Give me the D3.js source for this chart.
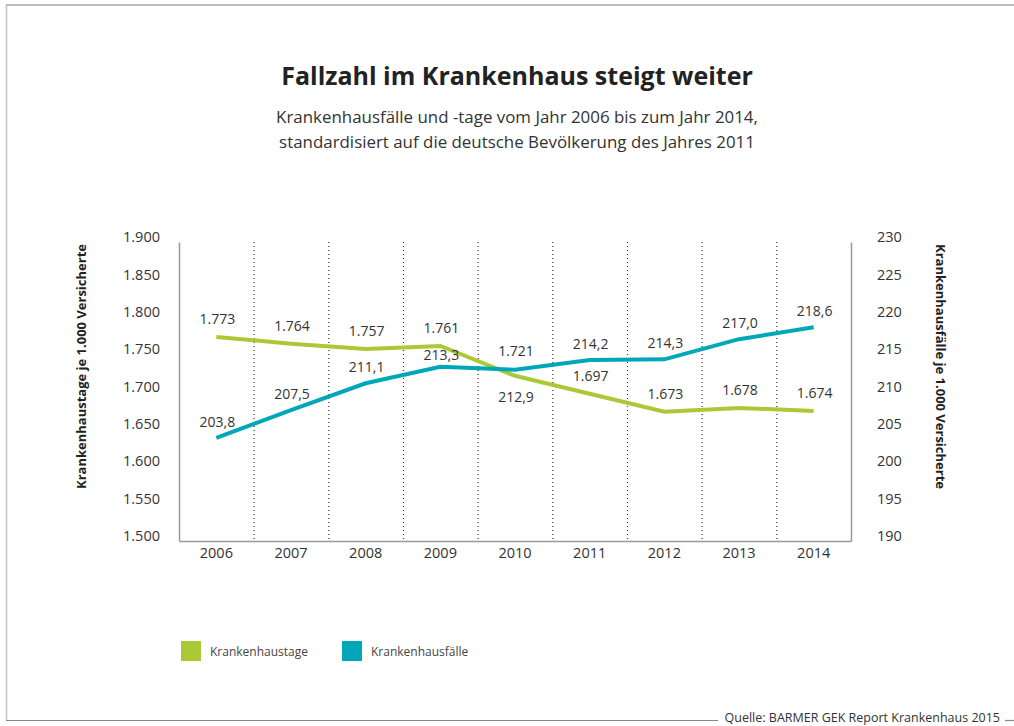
<!DOCTYPE html>
<html>
<head>
<meta charset="utf-8">
<script src="https://cdn.jsdelivr.net/npm/d3@7"></script>
<style>
  body { margin: 0; background: #fff; }
  svg { display: block; font-family: 'Open Sans', sans-serif; }
</style>
</head>
<body>
<svg id="container"></svg>
<script>
// data
const years = ['2006', '2007', '2008', '2009', '2010', '2011', '2012', '2013', '2014']
const tage = [1773, 1764, 1757, 1761, 1721, 1697, 1673, 1678, 1674]
const faelle = [203.8, 207.5, 211.1, 213.3, 212.9, 214.2, 214.3, 217.0, 218.6]
const leftTicks = [1500, 1550, 1600, 1650, 1700, 1750, 1800, 1850, 1900]
const rightTicks = [190, 195, 200, 205, 210, 215, 220, 225, 230]
const seriesNames = ['Krankenhaustage', 'Krankenhausfälle']

const W = 1014
const H = 726
const green = '#abc837'
const blue = '#00a7b8'
const textColor = '#333'

const svg = d3.select('#container').attr('width', W).attr('height', H)

// frame
svg.append('line').attr('x1', 6.5).attr('x2', 6.5).attr('y1', 5).attr('y2', 721)
  .attr('stroke', '#c4c4c4').attr('stroke-width', 1.5)
svg.append('line').attr('x1', 6).attr('x2', W).attr('y1', 5).attr('y2', 5)
  .attr('stroke', '#a8a8a8').attr('stroke-width', 1.5)
svg.append('line').attr('x1', 6).attr('x2', 718).attr('y1', 720.5).attr('y2', 720.5)
  .attr('stroke', '#8a8a8a').attr('stroke-width', 1.2)
svg.append('line').attr('x1', 1005).attr('x2', W).attr('y1', 720.5).attr('y2', 720.5)
  .attr('stroke', '#8a8a8a').attr('stroke-width', 1.2)

// titles
svg.append('text').attr('x', 517).attr('y', 85).attr('text-anchor', 'middle')
  .attr('font-size', 25).attr('font-weight', 'bold').attr('fill', '#222')
  .text('Fallzahl im Krankenhaus steigt weiter')
svg.append('text').attr('x', 517).attr('y', 123).attr('text-anchor', 'middle')
  .attr('font-size', 16.9).attr('fill', textColor)
  .text('Krankenhausfälle und -tage vom Jahr 2006 bis zum Jahr 2014,')
svg.append('text').attr('x', 517).attr('y', 148).attr('text-anchor', 'middle')
  .attr('font-size', 16.9).attr('fill', textColor)
  .text('standardisiert auf die deutsche Bevölkerung des Jahres 2011')

// plot box
const plotLeft = 179
const plotRight = 851
const plotTop = 242
const plotBottom = 541

const x = d3.scaleBand().domain(years).range([plotLeft, plotRight])
const yL = d3.scaleLinear().domain([1500, 1900]).range([plotBottom, plotTop])
const yR = d3.scaleLinear().domain([190, 230]).range([plotBottom, plotTop])

const fmtL = d => d3.format(',')(d).replace(',', '.')
const fmtR = d => d3.format('.1f')(d).replace('.', ',')

// dotted separators between years
svg.append('g').selectAll('line')
  .data(years.slice(1))
  .join('line')
  .attr('x1', d => x(d) + 0.5)
  .attr('x2', d => x(d) + 0.5)
  .attr('y1', plotTop)
  .attr('y2', plotBottom)
  .attr('stroke', '#333')
  .attr('stroke-width', 1.2)
  .attr('stroke-dasharray', '1,3')

// axes
const gL = svg.append('g').attr('transform', `translate(${plotLeft},0)`)
  .call(d3.axisLeft(yL).tickValues(leftTicks).tickSize(0).tickPadding(19).tickFormat(fmtL))
const gR = svg.append('g').attr('transform', `translate(${plotRight},0)`)
  .call(d3.axisRight(yR).tickValues(rightTicks).tickSize(0).tickPadding(26))
const gX = svg.append('g').attr('transform', `translate(0,${plotBottom})`)
  .call(d3.axisBottom(x).tickSize(0).tickPadding(5))

;[gL, gR, gX].forEach(g => {
  g.select('.domain').attr('stroke', '#9a9a9a').attr('stroke-width', 1.5)
  g.selectAll('.tick text').attr('font-size', 14.5).attr('fill', textColor)
    .attr('font-family', "'Open Sans', sans-serif")
})
gL.selectAll('.tick text').attr('dy', '-0.02em')
gR.selectAll('.tick text').attr('dy', '-0.02em')
gX.selectAll('.tick text').attr('dy', '0.85em')

// axis titles
svg.append('text')
  .attr('transform', `translate(86,${(plotTop + plotBottom) / 2 - 25}) rotate(-90)`)
  .attr('text-anchor', 'middle').attr('font-size', 13).attr('font-weight', 'bold')
  .attr('fill', '#222').text('Krankenhaustage je 1.000 Versicherte')
svg.append('text')
  .attr('transform', `translate(936,${(plotTop + plotBottom) / 2 - 25}) rotate(90)`)
  .attr('text-anchor', 'middle').attr('font-size', 13).attr('font-weight', 'bold')
  .attr('fill', '#222').text('Krankenhausfälle je 1.000 Versicherte')

// lines
const cx = d => x(d) + x.bandwidth() / 2
const lineL = d3.line().x((d, i) => cx(years[i])).y(d => yL(d))
const lineR = d3.line().x((d, i) => cx(years[i])).y(d => yR(d))

svg.append('path').datum(tage).attr('d', lineL)
  .attr('fill', 'none').attr('stroke', green).attr('stroke-width', 4)
svg.append('path').datum(faelle).attr('d', lineR)
  .attr('fill', 'none').attr('stroke', blue).attr('stroke-width', 4)

// value labels (blue 2010 sits under its point, 1.721 a bit higher,
// 213,3 squeezed between the two lines)
svg.append('g').selectAll('text')
  .data(tage)
  .join('text')
  .attr('x', (d, i) => cx(years[i]) + 1)
  .attr('y', (d, i) => years[i] === '2010' ? yL(d) - 20 : yL(d) - 13)
  .attr('text-anchor', 'middle').attr('font-size', 14).attr('fill', textColor)
  .text(fmtL)

svg.append('g').selectAll('text')
  .data(faelle)
  .join('text')
  .attr('x', (d, i) => cx(years[i]) + 1)
  .attr('y', (d, i) => {
    if (years[i] === '2010') return yR(d) + 32
    if (years[i] === '2009') return yR(d) - 7
    return yR(d) - 11
  })
  .attr('text-anchor', 'middle').attr('font-size', 14).attr('fill', textColor)
  .text(fmtR)

// legend
const legend = svg.append('g').attr('transform', 'translate(181,641)')
const items = legend.selectAll('g')
  .data(seriesNames)
  .join('g')
  .attr('transform', (d, i) => `translate(${i * 161},0)`)
items.append('rect').attr('width', 20).attr('height', 20)
  .attr('fill', (d, i) => (i === 0 ? green : blue))
items.append('text').attr('x', 29).attr('y', 15)
  .attr('font-size', 12).attr('fill', '#444').text(d => d)

// source
svg.append('text').attr('x', 1000).attr('y', 722).attr('text-anchor', 'end')
  .attr('font-size', 12.5).attr('fill', '#333')
  .text('Quelle: BARMER GEK Report Krankenhaus 2015')
</script>
</body>
</html>
